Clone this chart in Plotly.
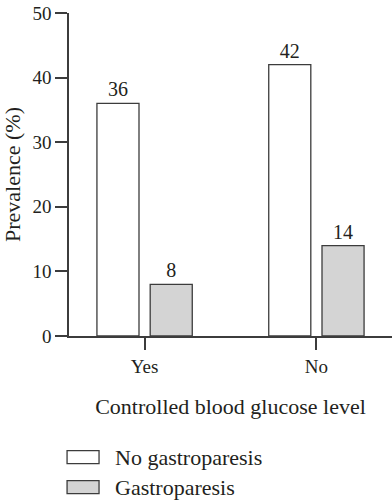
import plotly.graph_objects as go

categories = ["Yes", "No"]
no_gastroparesis = [36, 42]
gastroparesis = [8, 14]
series_names = ["No gastroparesis", "Gastroparesis"]
y_ticks = [0, 10, 20, 30, 40, 50]

FONT = "Liberation Serif"
TICK_FS = 19
BIG_FS = 22
TXT = "#231f20"
EDGE = "#3c3c3c"

fig = go.Figure()
fig.add_trace(go.Bar(
    x=categories, y=no_gastroparesis, name=series_names[0],
    marker=dict(color="white", line=dict(color=EDGE, width=1.3)),
    text=[str(v) for v in no_gastroparesis], textposition="outside",
    textfont=dict(family=FONT, size=20, color=TXT), cliponaxis=False,
    showlegend=False, hoverinfo="skip",
))
fig.add_trace(go.Bar(
    x=categories, y=gastroparesis, name=series_names[1],
    marker=dict(color="#d4d4d4", line=dict(color=EDGE, width=1.3)),
    text=[str(v) for v in gastroparesis], textposition="outside",
    textfont=dict(family=FONT, size=20, color=TXT), cliponaxis=False,
    showlegend=False, hoverinfo="skip",
))

# custom legend (swatches + labels) below the axis title
legend_fills = ["white", "#d4d4d4"]
legend_y = [-0.375, -0.468]
for name, fill, yc in zip(series_names, legend_fills, legend_y):
    fig.add_shape(type="rect", xref="paper", yref="paper",
                  x0=-0.006, x1=0.093, y0=yc - 0.02, y1=yc + 0.02,
                  line=dict(color=EDGE, width=1.3), fillcolor=fill)
    fig.add_annotation(x=0.136, y=yc, xref="paper", yref="paper",
                       text=name, showarrow=False, xanchor="left", yanchor="middle",
                       font=dict(family=FONT, size=BIG_FS, color=TXT))

fig.update_layout(
    width=392, height=500,
    margin=dict(l=69, r=0, t=13, b=164),
    paper_bgcolor="white", plot_bgcolor="white",
    barmode="group", bargap=0.38, bargroupgap=0.21,
    font=dict(family=FONT, size=TICK_FS, color=TXT),
    showlegend=False,
    xaxis=dict(
        range=[-0.44, 1.44], showline=True, linecolor=EDGE, linewidth=1.5,
        ticks="outside", ticklen=12, tickwidth=1.5, tickcolor=EDGE,
        showgrid=False, zeroline=False, automargin=False,
        title=dict(text="Controlled blood glucose level", standoff=23,
                   font=dict(family=FONT, size=BIG_FS, color=TXT)),
        tickfont=dict(family=FONT, size=TICK_FS, color=TXT),
    ),
    yaxis=dict(
        range=[0, 50], tickvals=y_ticks, showline=True, linecolor=EDGE, linewidth=1.5,
        ticks="outside", ticklen=12, tickwidth=1.5, tickcolor=EDGE,
        showgrid=False, zeroline=False, automargin=False,
        title=dict(text="Prevalence (%)", standoff=8,
                   font=dict(family=FONT, size=BIG_FS, color=TXT)),
        tickfont=dict(family=FONT, size=TICK_FS, color=TXT),
    ),
)

fig.write_html("out.html", config={"displayModeBar": False},
               post_script="document.body.style.margin='0';")
